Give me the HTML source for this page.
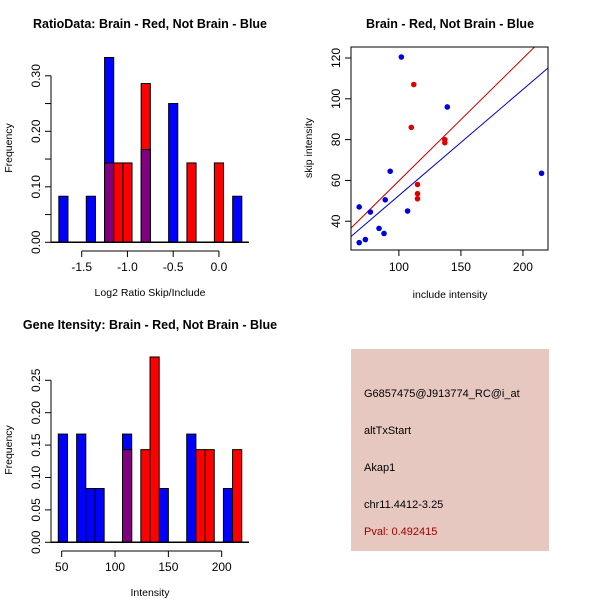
<!DOCTYPE html>
<html><head><meta charset="utf-8"><style>
body{margin:0;background:#fff}
svg{display:block;font-family:"Liberation Sans",sans-serif}
</style></head><body>
<svg id="s" width="600" height="600" xmlns="http://www.w3.org/2000/svg">
<rect width="600" height="600" fill="#fff"/>
<g id="p1"></g>
<g id="p2"></g>
<g id="p3"></g>
<g>
<rect x="351" y="349" width="198" height="202" fill="#e6c8c0"/>
<text x="364" y="397" font-size="11">G6857475@J913774_RC@i_at</text>
<text x="364" y="434" font-size="11">altTxStart</text>
<text x="364" y="471" font-size="11">Akap1</text>
<text x="364" y="508" font-size="11">chr11.4412-3.25</text>
<text x="364" y="535" font-size="11" fill="#a00000">Pval: 0.492415</text>
</g>
</svg>
<script>
const ratioBlueBins=[-1.75,-1.45,-1.25,-0.85,-0.55,0.15];
const ratioBlueFreq=[0.083,0.083,0.333,0.167,0.25,0.083];
const ratioRedBins=[-1.25,-1.15,-1.05,-0.85,-0.35,-0.05];
const ratioRedFreq=[0.143,0.143,0.143,0.286,0.143,0.143];
const ratioXTicks=[-1.5,-1.0,-0.5,0.0];
const ratioXLabels=["-1.5","-1.0","-0.5","0.0"];
const ratioYTicks=[0,0.05,0.1,0.15,0.2,0.25,0.3];
const ratioYLabels=["0.00","","0.10","","0.20","","0.30"];
const blueInclude=[102,139,93,215,68,89,77,107,84,88,73,68];
const blueSkip=[120.5,96,64.5,63.5,47,50.5,44.5,45,36.5,34,31,29.5];
const redInclude=[112,110,137,137,115,115,115];
const redSkip=[107,86,80,78.5,58,53.5,51];
const redFit=[-0.2,0.6];
const blueFit=[0.6,0.52];
const scatXTicks=[100,150,200];
const scatYTicks=[40,60,80,100,120];
const intBlueBins=[0,2,3,4,7,11,14,18];
const intBlueFreq=[0.167,0.167,0.083,0.083,0.167,0.083,0.167,0.083];
const intRedBins=[7,9,10,15,16,19];
const intRedFreq=[0.143,0.143,0.286,0.143,0.143,0.143];
const intXTicks=[50,100,150,200];
const intYTicks=[0,0.05,0.1,0.15,0.2,0.25];
const intYLabels=["0.00","0.05","0.10","0.15","0.20","0.25"];

const NS="http://www.w3.org/2000/svg";
function mk(parent,tag,attrs){const e=document.createElementNS(NS,tag);for(const k in attrs)e.setAttribute(k,attrs[k]);parent.appendChild(e);return e;}
function txt(parent,x,y,s,attrs){const e=mk(parent,'text',Object.assign({x:x,y:y,'font-size':12},attrs||{}));e.textContent=s;return e;}

function hist(g,o){
  const X=v=>o.x0+(v-o.d0)*o.sx, Y=v=>o.y0-v*o.sy;
  const t=txt(g,o.tx,o.ty,o.title,{'font-weight':'bold','font-size':12.5,'text-anchor':'middle'});
  
  const blue={},red={};
  o.bb.forEach((b,i)=>blue[b]=o.bf[i]);o.rb.forEach((b,i)=>red[b]=o.rf[i]);
  const keys=[...new Set([...o.bb,...o.rb])];
  keys.forEach(k=>{
    const l=o.edge(k), r=l+o.w, bv=blue[k]||0, rv=red[k]||0;
    const draw=(v,c,nm)=>{if(v<=0)return;const e=mk(g,'rect',{x:X(l),y:Y(v),width:X(r)-X(l),height:Y(0)-Y(v),fill:c,stroke:'#000','stroke-width':1});
      };
    if(bv>=rv){draw(bv,'#0000ff','bar-blue');draw(rv,rv>0&&bv>0?'#800080':'#ff0000',rv>0&&bv>0?'bar-overlap':'bar-red');}
    else{draw(rv,'#ff0000','bar-red');draw(bv,'#800080','bar-overlap');}
  });
  const ya=mk(g,'line',{x1:o.yax,x2:o.yax,y1:Y(o.yt[0]),y2:Y(o.yt[o.yt.length-1]),stroke:'#000'});
  
  o.yt.forEach((v,i)=>{mk(g,'line',{x1:o.yax-6,x2:o.yax,y1:Y(v),y2:Y(v),stroke:'#000'});
    if(o.yl[i]){const e=txt(g,0,0,o.yl[i],{'text-anchor':'middle',transform:`translate(${o.yax-11},${Y(v)}) rotate(-90)`});}});
  const xa=mk(g,'line',{x1:X(o.xt[0]),x2:X(o.xt[o.xt.length-1]),y1:o.xay,y2:o.xay,stroke:'#000'});
  
  o.xt.forEach((v,i)=>{mk(g,'line',{x1:X(v),x2:X(v),y1:o.xay,y2:o.xay+6,stroke:'#000'});
    const e=txt(g,X(v),o.xay+20,o.xl[i],{'text-anchor':'middle'});});
  mk(g,'line',{x1:o.base0,x2:o.base1,y1:Y(0),y2:Y(0),stroke:'#000','stroke-width':1.5});
  const xt=txt(g,o.tx,o.xay+45,o.xtitle,{'text-anchor':'middle','font-size':10.5});
  const yt=txt(g,0,0,'Frequency',{'text-anchor':'middle','font-size':10.5,transform:`translate(12,${o.ymid}) rotate(-90)`});
}

hist(document.getElementById('p1'),{title:'RatioData: Brain - Red, Not Brain - Blue',tx:150,ty:28,
  x0:81.7,d0:-1.5,sx:91.5,y0:242.3,sy:555,w:0.1,edge:k=>k,
  bb:ratioBlueBins,bf:ratioBlueFreq,rb:ratioRedBins,rf:ratioRedFreq,
  xt:ratioXTicks,xl:ratioXLabels,yt:ratioYTicks,yl:ratioYLabels,yax:51,xay:251,
  base0:51,base1:249,xtitle:'Log2 Ratio Skip/Include',ymid:148});

hist(document.getElementById('p3'),{title:'Gene Itensity: Brain - Red, Not Brain - Blue',tx:150,ty:329,
  x0:61.7,d0:50,sx:1.0667,y0:542.3,sy:648,w:8.6,edge:k=>46.8+8.6*k,
  bb:intBlueBins,bf:intBlueFreq,rb:intRedBins,rf:intRedFreq,
  xt:intXTicks,xl:intXTicks.map(String),yt:intYTicks,yl:intYLabels,yax:51,xay:551,
  base0:51,base1:249,xtitle:'Intensity',ymid:450});

(function(){
  const g=document.getElementById('p2');
  const L=351,R=548,T=47,B=250, xd=[61.4,220.2], yd=[25.9,125.4];
  const X=v=>L+(v-xd[0])/(xd[1]-xd[0])*(R-L), Y=v=>B-(v-yd[0])/(yd[1]-yd[0])*(B-T);
  const t=txt(g,450,28,'Brain - Red, Not Brain - Blue',{'font-weight':'bold','font-size':12.5,'text-anchor':'middle'});
  
  const cp=mk(g,'clipPath',{id:'cp'});
  mk(cp,'rect',{x:L,y:T,width:R-L,height:B-T});
  [[redFit,'#c00000','fit-line-red'],[blueFit,'#0000c0','fit-line-blue']].forEach(([f,c,nm])=>{
    const e=mk(g,'line',{x1:X(xd[0]),y1:Y(f[0]+f[1]*xd[0]),x2:X(xd[1]),y2:Y(f[0]+f[1]*xd[1]),stroke:c,'clip-path':'url(#cp)'});
    });
  blueInclude.forEach((v,i)=>{const e=mk(g,'circle',{cx:X(v),cy:Y(blueSkip[i]),r:2.8,fill:'#0000dd'});
    });
  redInclude.forEach((v,i)=>{const e=mk(g,'circle',{cx:X(v),cy:Y(redSkip[i]),r:2.8,fill:'#dd0000'});
    });
  const box=mk(g,'rect',{x:L,y:T,width:R-L,height:B-T,fill:'none',stroke:'#000'});
  
  scatXTicks.forEach(v=>{mk(g,'line',{x1:X(v),x2:X(v),y1:B,y2:B+6,stroke:'#000'});
    const e=txt(g,X(v),B+21,String(v),{'text-anchor':'middle'});});
  scatYTicks.forEach(v=>{mk(g,'line',{x1:L-6,x2:L,y1:Y(v),y2:Y(v),stroke:'#000'});
    const e=txt(g,0,0,String(v),{'text-anchor':'middle',transform:`translate(${L-11},${Y(v)}) rotate(-90)`});});
  const xt=txt(g,450,298,'include intensity',{'text-anchor':'middle','font-size':10.5});
  const yt=txt(g,0,0,'skip intensity',{'text-anchor':'middle','font-size':10.5,transform:'translate(312,148) rotate(-90)'});
})();
</script>
</body></html>
